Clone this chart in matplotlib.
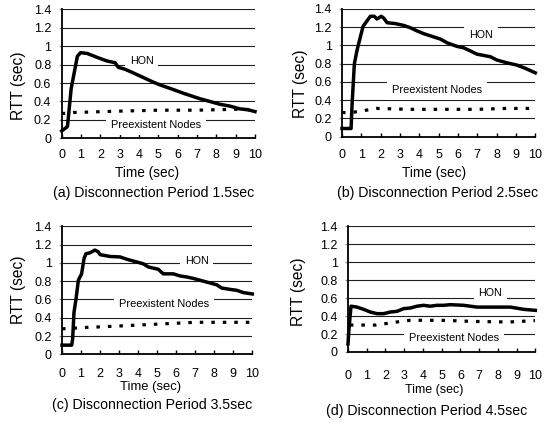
import numpy as np
import matplotlib
matplotlib.use("Agg")
import matplotlib.pyplot as plt
from matplotlib.ticker import FuncFormatter

plt.rcParams['font.family'] = ['Liberation Sans', 'DejaVu Sans']

# ---- data (time in sec, RTT in sec) ----
a_hon_t = [0, 0.26, 0.3, 0.49, 0.81, 0.98, 1.33, 1.81, 2.33, 2.76, 2.93, 3.27, 3.7, 4.22,
           4.73, 5.08, 5.76, 6.28, 6.71, 7.14, 7.66, 8.17, 8.69, 9.2, 9.63, 10]
a_hon = [0.08, 0.12, 0.13, 0.54, 0.89, 0.93, 0.92, 0.88, 0.84, 0.82, 0.77, 0.75, 0.71, 0.66,
         0.61, 0.58, 0.53, 0.49, 0.46, 0.43, 0.40, 0.37, 0.35, 0.32, 0.31, 0.29]
a_pre_t = [0, 0.3, 0.6, 3, 5, 7, 9, 10]
a_pre = [0.27, 0.27, 0.28, 0.295, 0.305, 0.305, 0.315, 0.31]

b_hon_t = [0, 0.47, 0.52, 0.64, 0.78, 0.91, 1.09, 1.26, 1.47, 1.67, 1.81, 2.03, 2.16, 2.33,
           2.76, 3.19, 3.53, 3.88, 4.22, 4.66, 5.09, 5.43, 5.95, 6.29, 6.64, 6.98, 7.67,
           8.02, 8.53, 9.05, 9.48, 10]
b_hon = [0.09, 0.09, 0.35, 0.80, 0.95, 1.06, 1.21, 1.26, 1.32, 1.32, 1.29, 1.32, 1.30, 1.25,
         1.24, 1.22, 1.195, 1.16, 1.13, 1.10, 1.07, 1.03, 0.99, 0.975, 0.94, 0.905, 0.877,
         0.84, 0.81, 0.785, 0.75, 0.70]
b_pre_t = [0, 0.5, 0.95, 1.8, 3.5, 7, 8.5, 10]
b_pre = [0.265, 0.265, 0.28, 0.31, 0.30, 0.30, 0.31, 0.31]

c_hon_t = [0, 0.51, 0.56, 0.63, 0.74, 0.86, 1.03, 1.16, 1.26, 1.47, 1.73, 1.91, 2.0, 2.52,
           3.05, 3.4, 3.75, 4.27, 4.54, 5.06, 5.32, 5.85, 6.2, 6.55, 6.9, 7.25, 7.78, 8.13,
           8.39, 8.83, 9.18, 9.53, 10]
c_hon = [0.10, 0.10, 0.17, 0.46, 0.61, 0.81, 0.88, 1.05, 1.10, 1.11, 1.14, 1.12, 1.09, 1.07,
         1.065, 1.04, 1.02, 0.99, 0.955, 0.93, 0.88, 0.88, 0.857, 0.846, 0.83, 0.81, 0.78,
         0.76, 0.725, 0.71, 0.70, 0.675, 0.66]
c_pre_t = [0, 0.5, 0.8, 2, 3.75, 5.5, 7, 10]
c_pre = [0.28, 0.28, 0.29, 0.30, 0.317, 0.335, 0.35, 0.35]

d_hon_t = [0, 0.05, 0.16, 0.48, 0.84, 1.19, 1.55, 1.9, 2.26, 2.62, 2.97, 3.33, 3.68, 4.04,
           4.39, 4.75, 5.1, 5.46, 6.17, 6.89, 7.78, 8.67, 9.38, 10]
d_hon = [0.09, 0.25, 0.51, 0.50, 0.475, 0.445, 0.427, 0.427, 0.445, 0.453, 0.483, 0.49,
         0.51, 0.52, 0.51, 0.52, 0.52, 0.527, 0.52, 0.50, 0.50, 0.50, 0.475, 0.464]
d_pre_t = [0.1, 1.5, 2.6, 3.33, 5, 6.8, 8.6, 10]
d_pre = [0.30, 0.30, 0.334, 0.353, 0.353, 0.34, 0.334, 0.35]

captions = ["(a) Disconnection Period 1.5sec", "(b) Disconnection Period 2.5sec",
            "(c) Disconnection Period 3.5sec", "(d) Disconnection Period 4.5sec"]
hon_name = "HON"
pre_name = "Preexistent Nodes"
y_ticks = [0, 0.2, 0.4, 0.6, 0.8, 1.0, 1.2, 1.4]
x_ticks = list(range(0, 11))

W, H = 554, 424
fig = plt.figure(figsize=(W / 100, H / 100), dpi=100)


def px(x, y):
    return x / W, 1 - y / H


panels = [
    # axes box in pixels (left, right, top, bottom), tick pad, xlabel pos, ylabel pos, caption pos,
    # HON label (t, v), Preexistent label (t, v)
    dict(box=(61.7, 255, 9.3, 138.3), pad=8, xl=(147.5, 173), yl=(19, 86), cap=(154, 192.7),
         hon_lbl=(4.13, 0.84), pre_lbl=(4.9, 0.14), xlfs=9.8,
         hon=(a_hon_t, a_hon), pre=(a_pre_t, a_pre)),
    dict(box=(342, 535.3, 9, 136.7), pad=9, xl=(434, 173), yl=(300, 84), cap=(437.5, 192.7),
         hon_lbl=(7.19, 1.115), pre_lbl=(4.91, 0.51), xlfs=9.8,
         hon=(b_hon_t, b_hon), pre=(b_pre_t, b_pre)),
    dict(box=(62, 252.3, 226.3, 354.3), pad=9.7, xl=(151, 387), yl=(19, 290), cap=(152, 405.3),
         hon_lbl=(7.08, 1.02), pre_lbl=(5.38, 0.545), xlfs=9.4,
         hon=(c_hon_t, c_hon), pre=(c_pre_t, c_pre)),
    dict(box=(348, 535.3, 226.3, 352), pad=13.3, xl=(434, 390.3), yl=(298.7, 292), cap=(427, 411),
         hon_lbl=(7.6, 0.655), pre_lbl=(5.64, 0.16), xlfs=9.0,
         hon=(d_hon_t, d_hon), pre=(d_pre_t, d_pre)),
]

for p, cap in zip(panels, captions):
    l, r, t, b = p['box']
    ax = fig.add_axes([l / W, 1 - b / H, (r - l) / W, (b - t) / H])
    ax.set_axisbelow(True)
    ax.yaxis.grid(True, color='#202020', linewidth=0.8)
    ax.plot(*p['hon'], color='black', linewidth=2.5, solid_joinstyle='round', clip_on=False, zorder=4)
    ax.plot(*p['pre'], color='black', linewidth=2.3, linestyle=(0, (1.1, 2.5)),
            dash_capstyle='butt', zorder=4)
    ax.set_xlim(0, 10)
    ax.set_ylim(0, 1.4)
    ax.set_xticks(x_ticks)
    ax.set_yticks(y_ticks)
    ax.yaxis.set_major_formatter(FuncFormatter(lambda v, pos: '%g' % v))
    for s in ['top', 'right']:
        ax.spines[s].set_visible(False)
    ax.spines['left'].set_linewidth(1.3)
    ax.spines['bottom'].set_linewidth(1.3)
    ax.tick_params(axis='x', direction='in', length=3, width=1, pad=p['pad'], labelsize=9)
    ax.tick_params(axis='y', direction='out', length=2.5, width=1, color='#909090',
                   labelcolor='black', pad=5, labelsize=9)

    box = dict(boxstyle='square,pad=0.45', facecolor='white', edgecolor='none')
    ax.text(*p['hon_lbl'], hon_name, ha='center', va='center', fontsize=7.7, bbox=box, zorder=3)
    ax.text(*p['pre_lbl'], pre_name, ha='center', va='center', fontsize=7.9, bbox=box, zorder=3)

    ax.set_xlabel("Time (sec)", fontsize=p['xlfs'])
    ax.xaxis.set_label_coords(*px(*p['xl']), transform=fig.transFigure)
    ax.xaxis.label.set_va('center')
    ax.set_ylabel("RTT (sec)", fontsize=11.2)
    ax.yaxis.set_label_coords(*px(*p['yl']), transform=fig.transFigure)
    ax.yaxis.label.set_va('center')

    fig.text(*px(*p['cap']), cap, ha='center', va='center', fontsize=10.2)

fig.savefig("out.png", dpi=100)
